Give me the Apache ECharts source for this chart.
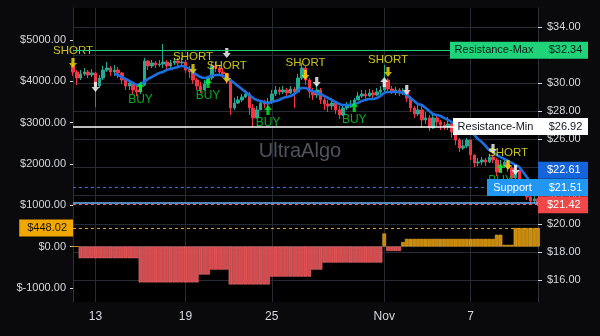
<!DOCTYPE html>
<html>
<head>
<meta charset="utf-8">
<script src="https://cdn.jsdelivr.net/npm/echarts@6/dist/echarts.min.js"></script>
<style>
html,body{margin:0;padding:0;background:#0a0a0c;}
#chart{width:600px;height:336px;}
</style>
</head>
<body>
<div id="chart"></div>
<script>
// price bars, right axis ($)
var openFirst = 31.23;
var closes = [
  30.80, 30.37, 30.66, 30.80, 30.59, 30.73, 29.80, 30.37, 30.94, 31.08,
  30.80, 30.94, 30.73, 30.23, 29.80, 30.02, 29.52, 29.38, 29.87, 31.58,
  31.23, 31.44, 31.30, 31.37, 31.51, 31.23, 31.44, 31.58, 31.44, 31.51,
  30.94, 30.80, 30.23, 29.80, 29.52, 29.95, 30.37, 31.23, 31.08, 30.80,
  30.66, 30.23, 28.24, 28.59, 28.81, 29.02, 29.23, 28.24, 27.53, 28.10,
  28.59, 28.52, 28.67, 29.23, 29.52, 29.38, 29.52, 29.31, 29.59, 29.38,
  30.37, 31.08, 30.23, 29.38, 29.16, 29.52, 28.81, 28.52, 28.38, 28.59,
  28.10, 27.74, 28.24, 28.45, 28.52, 28.81, 29.09, 29.23, 29.09, 29.31,
  29.16, 29.38, 29.52, 30.23, 29.59, 29.38, 29.52, 29.31, 29.38, 28.95,
  28.24, 27.81, 28.10, 27.39, 27.53, 26.82, 27.53, 27.24, 27.03, 26.89,
  27.10, 26.53, 25.96, 25.39, 25.54, 25.96, 24.90, 24.33, 24.40, 24.54,
  24.40, 24.75, 24.54, 23.69, 24.11, 24.40, 23.97, 23.26, 23.83, 22.69,
  22.27, 21.91, 21.63, 21.77, 21.42
];
var highs = [
  31.37, 30.94, 30.94, 31.08, 30.94, 31.01, 30.80, 30.59, 31.23, 31.51,
  31.23, 31.30, 31.16, 30.80, 30.37, 30.23, 30.09, 29.80, 30.09, 31.80,
  31.65, 31.65, 31.58, 31.65, 32.79, 31.65, 31.65, 31.80, 31.80, 31.80,
  31.65, 31.23, 30.94, 30.37, 30.09, 30.23, 30.52, 31.51, 31.51, 31.30,
  31.08, 30.66, 30.37, 28.95, 29.09, 29.23, 29.52, 29.38, 28.52, 28.38,
  28.81, 28.81, 28.95, 29.52, 29.80, 29.73, 29.80, 29.66, 29.80, 29.73,
  30.66, 31.44, 31.23, 30.37, 29.66, 29.95, 29.66, 28.95, 28.81, 28.95,
  28.67, 28.38, 28.52, 28.67, 28.81, 28.95, 29.38, 29.52, 29.52, 29.59,
  29.52, 29.66, 29.80, 31.30, 30.37, 29.80, 29.73, 29.66, 29.66, 29.52,
  29.09, 28.38, 28.52, 28.52, 27.95, 27.74, 27.81, 27.67, 27.39, 27.24,
  27.60, 27.24, 26.67, 26.11, 25.96, 26.11, 25.96, 24.90, 24.68, 24.75,
  24.68, 24.90, 24.90, 24.68, 24.54, 24.68, 24.54, 24.11, 24.11, 23.83,
  22.69, 22.41, 21.98, 21.98, 21.84
];
var lows = [
  30.52, 29.87, 30.23, 30.52, 30.37, 30.44, 28.31, 29.66, 30.23, 30.80,
  30.52, 30.52, 30.37, 29.95, 29.52, 29.52, 29.23, 29.09, 29.23, 29.80,
  30.94, 31.08, 31.08, 31.16, 31.08, 30.94, 31.08, 31.30, 31.23, 31.23,
  30.73, 30.37, 29.95, 29.52, 29.31, 29.52, 29.87, 30.23, 30.80, 30.52,
  30.37, 29.95, 27.74, 28.10, 28.52, 28.67, 28.95, 27.74, 26.89, 27.53,
  28.10, 28.24, 28.10, 28.52, 29.09, 29.16, 29.23, 29.09, 29.23, 28.24,
  29.38, 30.23, 29.87, 28.95, 28.81, 28.95, 28.52, 28.10, 27.95, 28.10,
  27.81, 27.46, 27.67, 28.10, 28.24, 28.38, 28.81, 28.95, 28.81, 29.02,
  28.95, 29.09, 29.16, 29.38, 29.38, 29.23, 29.16, 29.09, 29.16, 28.67,
  27.95, 27.53, 27.67, 26.82, 27.10, 26.60, 26.75, 26.96, 26.67, 26.67,
  26.67, 26.11, 25.61, 25.11, 25.25, 25.39, 24.54, 24.04, 24.11, 24.19,
  24.11, 24.33, 24.33, 23.40, 23.69, 23.97, 23.69, 22.98, 23.12, 22.41,
  21.98, 21.70, 21.42, 21.48, 21.27
];
// blue trend line
var trend = [
  null, null, null, null, null, null, null, null, null, null, null,
  30.66, 30.59, 30.44, 30.30, 30.16, 30.02, 29.87, 29.95, 30.09,
  30.30, 30.44, 30.59, 30.73, 30.80, 30.94, 31.01, 31.08, 31.16, 31.23,
  31.16, 31.01, 30.80, 30.59, 30.44, 30.37, 30.44, 30.52, 30.59, 30.59,
  30.52, 30.37, 30.23, 30.02, 29.80, 29.59, 29.38, 29.16, 28.95, 28.81,
  28.74, 28.67, 28.59, 28.67, 28.74, 28.81, 28.95, 29.02, 29.09, 29.23,
  29.45, 29.66, 29.66, 29.52, 29.45, 29.31, 29.23, 29.09, 28.95, 28.81,
  28.67, 28.52, 28.45, 28.45, 28.45, 28.52, 28.59, 28.74, 28.81, 28.88,
  28.88, 28.95, 29.09, 29.31, 29.38, 29.38, 29.38, 29.38, 29.31, 29.16,
  28.95, 28.74, 28.52, 28.45, 28.24, 28.03, 27.81, 27.74, 27.67, 27.53,
  27.39, 27.24, 27.10, 26.96, 26.82, 26.75, 26.60, 26.32, 26.03, 25.82,
  25.54, 25.25, 25.11, 24.90, 24.75, 24.61, 24.47, 24.33, 24.19, 24.04,
  23.69, 23.33, 22.98, 22.62, 22.41
];
// equity histogram, left axis ($)
var pnl = [
  0, 0, -285, -285, -285, -285, -285, -285, -285, -285,
  -285, -285, -285, -285, -285, -285, -285, -285, -870, -870,
  -870, -870, -870, -870, -870, -870, -870, -870, -870, -870,
  -870, -870, -870, -870, -680, -680, -680, -560, -560, -560,
  -560, -560, -920, -920, -920, -920, -920, -920, -920, -920,
  -920, -920, -920, -730, -730, -730, -730, -730, -730, -730,
  -730, -730, -730, -730, -560, -560, -560, -390, -390, -390,
  -390, -390, -390, -390, -390, -390, -390, -390, -390, -390,
  -390, -390, -390, 315, -110, -110, -110, -110, 110, 185,
  185, 185, 185, 185, 185, 185, 185, 185, 185, 185,
  185, 185, 185, 185, 185, 185, 185, 185, 185, 185,
  185, 185, 185, 285, 285, 40, 40, 40, 448.02, 448.02,
  448.02, 448.02, 448.02, 448.02, 448.02
];
var dayTickIdx = [6, 30, 53, 83, 106];
var dayTickText = ['13', '19', '25', 'Nov', '7'];
var priceTicks = [16, 18, 20, 22, 24, 26, 28, 30, 32, 34];
var pnlTicks = [-1000, 0, 1000, 2000, 3000, 4000, 5000];

// signals
var shortIdx = [0, 32, 41, 62, 84, 116];
var shortAt = [31.44, 31.01, 30.37, 30.59, 30.80, 24.19];
var buyIdx = [18, 36, 52, 75, 114];
var buyAt = [29.73, 30.02, 28.10, 28.31, 23.97];
var exitIdx = [6, 41, 65, 83, 89, 112, 118];
var exitAt = [29.73, 32.15, 30.09, 30.09, 29.52, 25.32, 23.83];
var exitUp = [false, false, false, true, false, false, false];

// levels
var resMax = 32.34, resMin = 26.92, upperBand = 22.61, support = 21.51, lastPrice = 21.42, pnlNow = 448.02;

var downArrow = 'path://M3,0H7V5H10L5,10L0,5H3Z';
var upArrow = 'path://M5,0L10,5H7V10H3V5H0Z';
var font = 'Liberation Sans, Arial, sans-serif';
var txt = '#d6d8de';
var gridCol = '#262a33';

var cats = closes.map(function (c, i) { return i; });
var candles = closes.map(function (c, i) {
  var o = i ? closes[i - 1] : openFirst;
  return [o, c, Math.min(lows[i], o, c), Math.max(highs[i], o, c)];
});
function money(v) { return '$' + v.toFixed(2); }
function showDay(i) { return dayTickIdx.indexOf(i) >= 0; }

function box(bg, fg, w, padL) {
  return { backgroundColor: bg, color: fg, width: w, padding: [3, 4, 3, padL], fontSize: 11, lineHeight: 12, fontFamily: font };
}
function level(v, col, type, width, offY, tag, tagW, tagBg, tagFg, bg, fg) {
  var rich = { b: box(bg, fg, 37, 9) };
  var f = '{b|' + money(v) + '}';
  var off = [0, offY];
  if (tag) {
    rich.a = box(tagBg, tagFg, tagW - 10, 5);
    rich.a.padding = [3, 5, 3, 5];
    rich.a.align = 'center';
    f = '{a|' + tag + '}' + f;
    off = [-tagW, offY];
  }
  return {
    yAxis: v,
    lineStyle: { color: col, type: type, width: width },
    label: { show: true, position: 'end', distance: 0, offset: off, formatter: f, rich: rich }
  };
}

var chart = echarts.init(document.getElementById('chart'), null, { renderer: 'canvas' });
chart.setOption({
  animation: false,
  backgroundColor: '#0a0a0c',
  grid: { left: 73, right: 62, top: 8, bottom: 34, show: true, backgroundColor: '#000', borderWidth: 0, outerBoundsMode: 'none' },
  graphic: [{
    type: 'text', left: 'center', top: 141, z: 1, silent: true,
    style: { text: 'UltraAlgo', fill: '#50535c', fontSize: 20, fontFamily: font }
  }],
  xAxis: {
    type: 'category', data: cats, boundaryGap: false,
    axisLine: { lineStyle: { color: '#2c2f3a' } },
    axisTick: { show: true, interval: function (i) { return showDay(i); }, length: 3, lineStyle: { color: gridCol } },
    axisLabel: {
      interval: function (i) { return showDay(i); },
      formatter: function (v, i) { return dayTickText[dayTickIdx.indexOf(i)] || ''; },
      color: txt, fontSize: 12, margin: 9, fontFamily: font
    },
    splitLine: { show: true, interval: function (i) { return showDay(i); }, lineStyle: { color: gridCol } }
  },
  yAxis: [{
    type: 'value', position: 'left', min: -1344, max: 5775,
    axisLine: { show: true, lineStyle: { color: '#2c2f3a' } },
    axisTick: { show: true, length: 3, customValues: pnlTicks, lineStyle: { color: txt } },
    axisLabel: { customValues: pnlTicks, formatter: money, color: txt, fontSize: 11, margin: 7, fontFamily: font },
    splitLine: { show: false }
  }, {
    type: 'value', position: 'right', min: 14.44, max: 35.35,
    axisLine: { show: true, lineStyle: { color: '#2c2f3a' } },
    axisTick: { show: true, length: 4, customValues: priceTicks, lineStyle: { color: txt } },
    axisLabel: { customValues: priceTicks, formatter: money, color: txt, fontSize: 11, margin: 9, fontFamily: font },
    splitLine: { show: true, lineStyle: { color: gridCol } }
  }],
  series: [{
    name: 'equity', type: 'bar', yAxisIndex: 0, z: 1, barCategoryGap: '0%',
    data: pnl.map(function (v) {
      return { value: v, itemStyle: v >= 0 ? { color: '#c98a08', borderColor: '#e2a624', borderWidth: 0.6 } : { color: '#d7474b', borderColor: '#ef7070', borderWidth: 0.6 } };
    }),
    markLine: {
      silent: true, symbol: 'none', animation: false,
      data: [{
        yAxis: pnlNow,
        lineStyle: { color: '#e5a00d', type: [3, 3], width: 1 },
        label: { show: true, position: 'start', distance: 0, formatter: money(pnlNow), backgroundColor: '#f0a800', color: '#1b1400', padding: [3, 6, 3, 8], fontSize: 11, fontFamily: font }
      }]
    }
  }, {
    name: 'price', type: 'candlestick', yAxisIndex: 1, z: 2, barWidth: 3,
    data: candles,
    itemStyle: { color: '#22ab94', color0: '#f23645', borderColor: '#22ab94', borderColor0: '#f23645', borderWidth: 1 }
  }, {
    name: 'trend', type: 'line', yAxisIndex: 1, z: 3, data: trend, smooth: 0.3, showSymbol: false,
    lineStyle: { color: '#1c6fe0', width: 2.6 }
  }, {
    name: 'short', type: 'scatter', yAxisIndex: 1, z: 4, symbol: downArrow, symbolSize: [8, 10],
    itemStyle: { color: '#f5e000' },
    label: { show: true, position: 'top', distance: 1, formatter: 'SHORT', color: '#f8f020', fontSize: 11.5, fontFamily: font },
    data: shortIdx.map(function (x, k) { return [x, shortAt[k]]; })
  }, {
    name: 'buy', type: 'scatter', yAxisIndex: 1, z: 4, symbol: upArrow, symbolSize: [8, 10],
    itemStyle: { color: '#05f229' },
    label: { show: true, position: 'bottom', distance: 2, formatter: 'BUY', color: '#0ad82a', fontSize: 12, fontFamily: font },
    data: buyIdx.map(function (x, k) { return [x, buyAt[k]]; })
  }, {
    name: 'exit', type: 'scatter', yAxisIndex: 1, z: 4, symbolSize: [8, 10],
    itemStyle: { color: '#ffffff' },
    data: exitIdx.map(function (x, k) { return { value: [x, exitAt[k]], symbol: exitUp[k] ? upArrow : downArrow }; })
  }, {
    name: 'levels', type: 'line', yAxisIndex: 1, z: 6, data: [],
    markLine: {
      silent: true, symbol: 'none', animation: false,
      data: [
        level(resMax, '#1fd37a', 'solid', 1, 0, 'Resistance-Max', 88, '#1fd37a', '#0c1a12', '#1fd37a', '#0c1a12'),
        level(resMin, '#ffffff', 'solid', 1.5, 0, 'Resistance-Min', 85, '#ffffff', '#131722', '#ffffff', '#131722'),
        level(upperBand, '#2a6ff0', [3, 3], 1, -17, null, 0, null, null, '#1664d9', '#ffffff'),
        level(support, '#6bb6ff', 'solid', 1.5, -15, 'Support', 51, '#2196f3', '#ffffff', '#2196f3', '#ffffff'),
        level(lastPrice, '#ff5252', [3, 3], 1, 1, null, 0, null, null, '#f04848', '#ffffff')
      ]
    }
  }]
});
</script>
</body>
</html>
